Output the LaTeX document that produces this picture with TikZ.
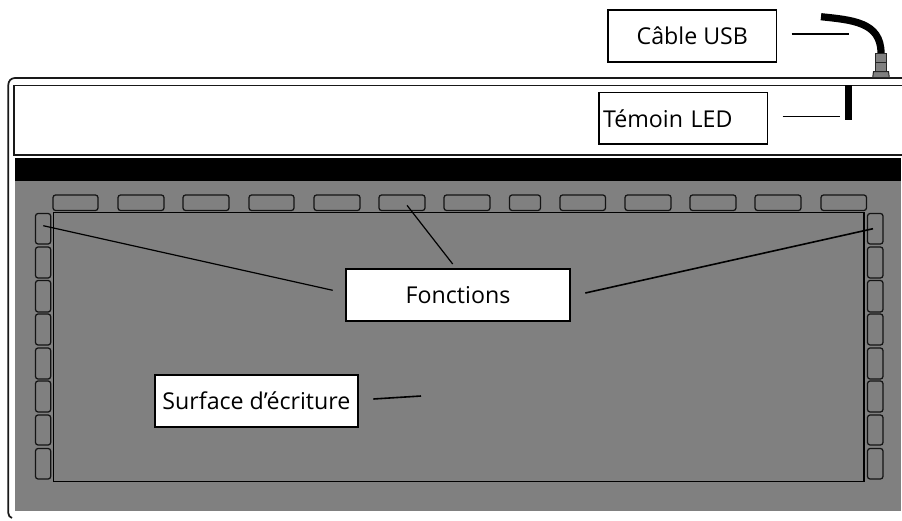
\documentclass[tikz,border=0pt]{standalone}
\usepackage{fontspec}
\setmainfont{Open Sans}
\definecolor{grayfill}{gray}{0.5}
\begin{document}
\begin{tikzpicture}[x=1pt,y=-1pt,
  btn/.style={draw=black!92,line width=1.25pt,rounded corners=2.6pt},
  lab/.style={draw=black,line width=1.7pt,fill=white,inner sep=0pt,font=\fontsize{23.2}{26}\selectfont,text=black},
  lead/.style={draw=black,line width=1.2pt},
  frameline/.style={draw=black!90,line width=1.7pt}]
\useasboundingbox (0,0) rectangle (902,520);
\fill[white] (0,0) rectangle (902,520);
% outer frame
\draw[frameline] (902,78) -- (15,78) .. controls (11,78) and (8.3,81) .. (8.3,85) -- (8.3,513) .. controls (8.3,515.5) and (10,517.5) .. (12,518);
\fill[grayfill] (15,158) rectangle (900.8,510.7);
\fill[black] (15,158) rectangle (900.8,181);
\draw[frameline,fill=white] (902,85.5) -- (13.7,85.5) -- (13.7,155.3) -- (902,155.3);
% surface
\draw[draw=black,line width=1.2pt] (53.3,212.5) rectangle (864,481.5);
% top buttons
\foreach \a/\b in {53/98,118/164,183/229,249/294,314/360,379/425,444/490,509.5/540.5,560/605.5,625/671,690/736,755/801,821/866.5}
  \draw[btn] (\a,195) rectangle (\b,210.5);
% side buttons
\foreach \a/\b in {213.5/244,247/278,280.5/312,314/345,348/379,381/412,415/445,448.5/479}{
  \draw[btn] (35.5,\a) rectangle (50.7,\b);
  \draw[btn] (867.5,\a) rectangle (883,\b);
}
% USB cable
\draw[fill=grayfill,draw=black!85,line width=1pt] (872.7,77.5) -- (873.5,71.5) -- (888.5,71.5) -- (889.3,77.5) -- cycle;
\draw[fill=grayfill,draw=black!85,line width=1pt] (875.3,71) -- (875.3,62) -- (886.8,62) -- (886.8,71) -- cycle;
\draw[fill=grayfill,draw=black!85,line width=1pt] (875.3,62) -- (875.3,53) -- (886.8,53) -- (886.8,62) -- cycle;
\draw[black,line width=7.2pt] (821,16.7) .. controls (852,20) and (881,22) .. (881,53);
% LED
\fill[black] (844.7,85) rectangle (852.3,120);
% labels
\node[lab,minimum width=168.5pt,minimum height=51.5pt] (usb) at (692.3,36) {Câble USB};
\node[lab,minimum width=168.5pt,minimum height=51.5pt,text width=160.5pt,align=left] (led) at (683.3,118.3) {\hspace{0pt}Témoin LED};
\node[lab,minimum width=224pt,minimum height=51.7pt] (fn) at (458,294.8) {Fonctions};
\node[lab,minimum width=203.5pt,minimum height=51.7pt] (sf) at (256.4,400.8) {Surface d’écriture};
\coordinate (u1) at (791.7,34);
\coordinate (u2) at (849,34);
\coordinate (l1) at (782.7,116.7);
\coordinate (l2) at (840,116.7);
\coordinate (f1) at (332.7,290.3);
\coordinate (f2) at (43.3,225.7);
\coordinate (f3) at (452.7,264);
\coordinate (f4) at (407,205.3);
\coordinate (f5) at (585.3,293);
\coordinate (f6) at (873,228.7);
\coordinate (s1) at (373.3,399);
\coordinate (s2) at (421,396);
\draw[lead] (u1) -- (u2);
\draw[lead] (l1) -- (l2);
\draw[lead] (f1) -- (f2);
\draw[lead] (f3) -- (f4);
\draw[lead,line width=1.6pt] (f5) -- (f6);
\draw[lead,line width=1.6pt] (s1) -- (s2);
\end{tikzpicture}
\end{document}
